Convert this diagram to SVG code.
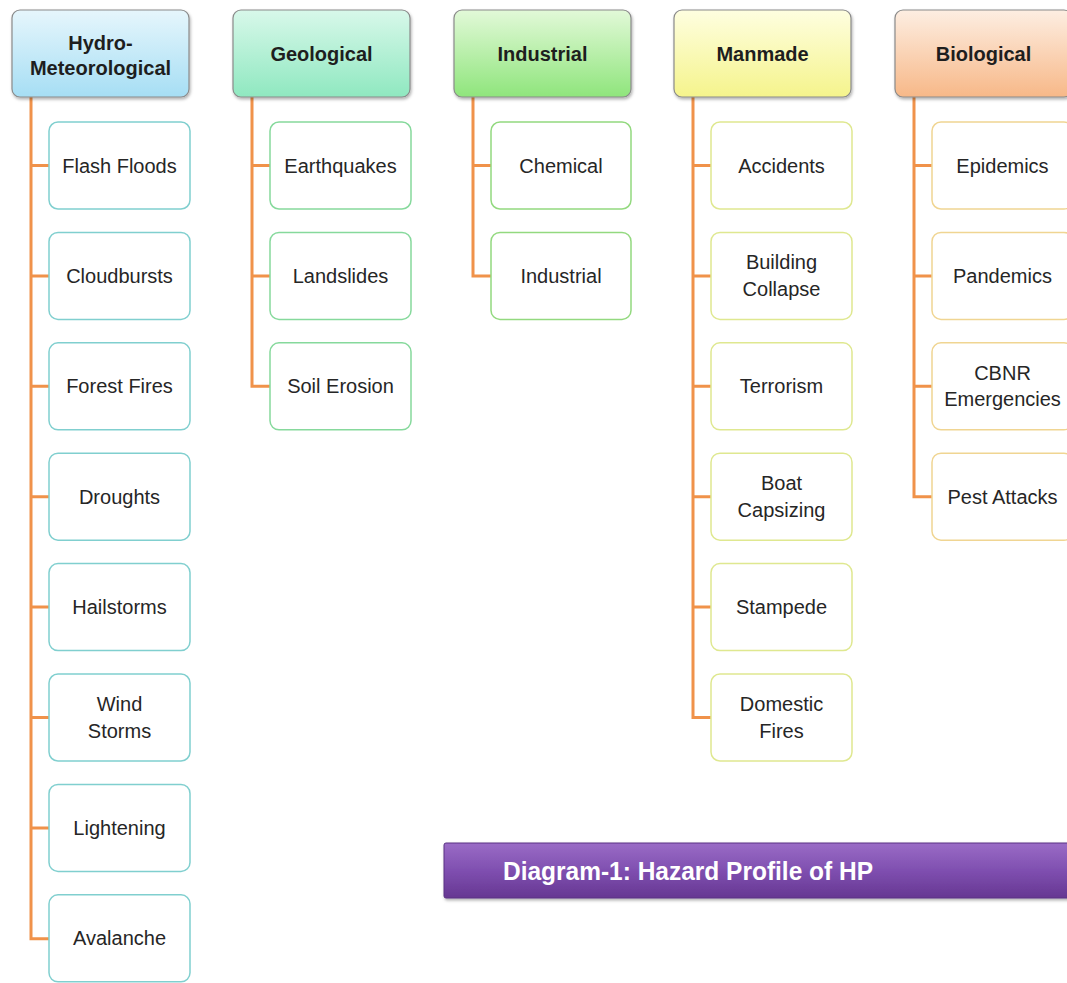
<svg xmlns="http://www.w3.org/2000/svg" width="1067" height="983" viewBox="0 0 1067 983">
<style>
.hd{stroke:#8a8a8a;stroke-width:1.2;filter:url(#sh)}
.ch{fill:#fff;stroke-width:1.5}
.ht{font-family:"Liberation Sans",Arial,sans-serif;font-weight:bold;font-size:20px;fill:#1e1e1e;text-anchor:middle}
.ct{font-family:"Liberation Sans",Arial,sans-serif;font-size:20px;fill:#262626;text-anchor:middle}
.cn{fill:none;stroke:#f0924a;stroke-width:3}
.c1{stroke:#80cfcf}.c2{stroke:#86d99c}.c3{stroke:#93d97f}.c4{stroke:#dfe890}.c5{stroke:#f0d592}
</style>
<defs>
<filter id="sh" x="-10%" y="-10%" width="130%" height="140%"><feDropShadow dx="1" dy="2" stdDeviation="1.5" flood-color="#000" flood-opacity="0.3"/></filter>
<linearGradient id="g1" x1="0" y1="0" x2="0" y2="1"><stop offset="0" stop-color="#e6f6fc"/><stop offset="1" stop-color="#a6def4"/></linearGradient>
<linearGradient id="g2" x1="0" y1="0" x2="0" y2="1"><stop offset="0" stop-color="#d8f8ea"/><stop offset="1" stop-color="#8fe8c0"/></linearGradient>
<linearGradient id="g3" x1="0" y1="0" x2="0" y2="1"><stop offset="0" stop-color="#e2f9d8"/><stop offset="1" stop-color="#8fe57c"/></linearGradient>
<linearGradient id="g4" x1="0" y1="0" x2="0" y2="1"><stop offset="0" stop-color="#fefee0"/><stop offset="1" stop-color="#f5f48c"/></linearGradient>
<linearGradient id="g5" x1="0" y1="0" x2="0" y2="1"><stop offset="0" stop-color="#fdeee2"/><stop offset="1" stop-color="#f7b888"/></linearGradient>
<linearGradient id="gp" x1="0" y1="0" x2="0" y2="1"><stop offset="0" stop-color="#9a6cc6"/><stop offset="0.5" stop-color="#7f4fb0"/><stop offset="1" stop-color="#663792"/></linearGradient>
</defs>
<rect width="1067" height="983" fill="#fff"/>

<g id="connectors">
<path class="cn" d="M31,97V938.8H49M31,165.5H49M31,275.9H49M31,386.3H49M31,496.7H49M31,607.1H49M31,717.5H49M31,827.9H49"/>
<path class="cn" d="M252,97V386.3H270M252,165.5H270M252,275.9H270"/>
<path class="cn" d="M473,97V275.9H491M473,165.5H491"/>
<path class="cn" d="M693,97V717.5H711M693,165.5H711M693,275.9H711M693,386.3H711M693,496.7H711M693,607.1H711"/>
<path class="cn" d="M914,97V496.7H932M914,165.5H932M914,275.9H932M914,386.3H932"/>
</g>

<g id="hydro"><rect class="hd" x="12" y="10" width="177" height="87" rx="8" fill="url(#g1)"/><text class="ht" x="100.5" y="50">Hydro-</text><text class="ht" x="100.5" y="75">Meteorological</text></g>
<g id="geological"><rect class="hd" x="233" y="10" width="177" height="87" rx="8" fill="url(#g2)"/><text class="ht" x="321.5" y="61">Geological</text></g>
<g id="industrial"><rect class="hd" x="454" y="10" width="177" height="87" rx="8" fill="url(#g3)"/><text class="ht" x="542.5" y="61">Industrial</text></g>
<g id="manmade"><rect class="hd" x="674" y="10" width="177" height="87" rx="8" fill="url(#g4)"/><text class="ht" x="762.5" y="61">Manmade</text></g>
<g id="biological"><rect class="hd" x="895" y="10" width="177" height="87" rx="8" fill="url(#g5)"/><text class="ht" x="983.5" y="61">Biological</text></g>

<g id="flash-floods"><rect class="ch c1" x="49" y="122" width="141" height="87" rx="9"/><text class="ct" x="119.5" y="172.5">Flash Floods</text></g>
<g id="cloudbursts"><rect class="ch c1" x="49" y="232.4" width="141" height="87" rx="9"/><text class="ct" x="119.5" y="282.9">Cloudbursts</text></g>
<g id="forest-fires"><rect class="ch c1" x="49" y="342.8" width="141" height="87" rx="9"/><text class="ct" x="119.5" y="393.3">Forest Fires</text></g>
<g id="droughts"><rect class="ch c1" x="49" y="453.2" width="141" height="87" rx="9"/><text class="ct" x="119.5" y="503.7">Droughts</text></g>
<g id="hailstorms"><rect class="ch c1" x="49" y="563.6" width="141" height="87" rx="9"/><text class="ct" x="119.5" y="614.1">Hailstorms</text></g>
<g id="wind-storms"><rect class="ch c1" x="49" y="674" width="141" height="87" rx="9"/><text class="ct" x="119.5" y="711">Wind</text><text class="ct" x="119.5" y="737.5">Storms</text></g>
<g id="lightening"><rect class="ch c1" x="49" y="784.4" width="141" height="87" rx="9"/><text class="ct" x="119.5" y="834.9">Lightening</text></g>
<g id="avalanche"><rect class="ch c1" x="49" y="894.8" width="141" height="87" rx="9"/><text class="ct" x="119.5" y="945.3">Avalanche</text></g>

<g id="earthquakes"><rect class="ch c2" x="270" y="122" width="141" height="87" rx="9"/><text class="ct" x="340.5" y="172.5">Earthquakes</text></g>
<g id="landslides"><rect class="ch c2" x="270" y="232.4" width="141" height="87" rx="9"/><text class="ct" x="340.5" y="282.9">Landslides</text></g>
<g id="soil-erosion"><rect class="ch c2" x="270" y="342.8" width="141" height="87" rx="9"/><text class="ct" x="340.5" y="393.3">Soil Erosion</text></g>

<g id="chemical"><rect class="ch c3" x="491" y="122" width="140" height="87" rx="9"/><text class="ct" x="561" y="172.5">Chemical</text></g>
<g id="industrial-2"><rect class="ch c3" x="491" y="232.4" width="140" height="87" rx="9"/><text class="ct" x="561" y="282.9">Industrial</text></g>

<g id="accidents"><rect class="ch c4" x="711" y="122" width="141" height="87" rx="9"/><text class="ct" x="781.5" y="172.5">Accidents</text></g>
<g id="building-collapse"><rect class="ch c4" x="711" y="232.4" width="141" height="87" rx="9"/><text class="ct" x="781.5" y="269.4">Building</text><text class="ct" x="781.5" y="295.9">Collapse</text></g>
<g id="terrorism"><rect class="ch c4" x="711" y="342.8" width="141" height="87" rx="9"/><text class="ct" x="781.5" y="393.3">Terrorism</text></g>
<g id="boat-capsizing"><rect class="ch c4" x="711" y="453.2" width="141" height="87" rx="9"/><text class="ct" x="781.5" y="490.2">Boat</text><text class="ct" x="781.5" y="516.7">Capsizing</text></g>
<g id="stampede"><rect class="ch c4" x="711" y="563.6" width="141" height="87" rx="9"/><text class="ct" x="781.5" y="614.1">Stampede</text></g>
<g id="domestic-fires"><rect class="ch c4" x="711" y="674" width="141" height="87" rx="9"/><text class="ct" x="781.5" y="711">Domestic</text><text class="ct" x="781.5" y="737.5">Fires</text></g>

<g id="epidemics"><rect class="ch c5" x="932" y="122" width="141" height="87" rx="9"/><text class="ct" x="1002.5" y="172.5">Epidemics</text></g>
<g id="pandemics"><rect class="ch c5" x="932" y="232.4" width="141" height="87" rx="9"/><text class="ct" x="1002.5" y="282.9">Pandemics</text></g>
<g id="cbnr"><rect class="ch c5" x="932" y="342.8" width="141" height="87" rx="9"/><text class="ct" x="1002.5" y="379.8">CBNR</text><text class="ct" x="1002.5" y="406.3">Emergencies</text></g>
<g id="pest-attacks"><rect class="ch c5" x="932" y="453.2" width="141" height="87" rx="9"/><text class="ct" x="1002.5" y="503.7">Pest Attacks</text></g>

<g id="title"><rect x="444" y="843" width="630" height="55" rx="2" fill="url(#gp)" stroke="#5a3283" stroke-width="1" filter="url(#sh)"/><text x="688" y="880" font-family="Liberation Sans,Arial,sans-serif" font-weight="bold" font-size="25" fill="#fff" text-anchor="middle" textLength="370" lengthAdjust="spacingAndGlyphs">Diagram-1: Hazard Profile of HP</text></g>
</svg>
